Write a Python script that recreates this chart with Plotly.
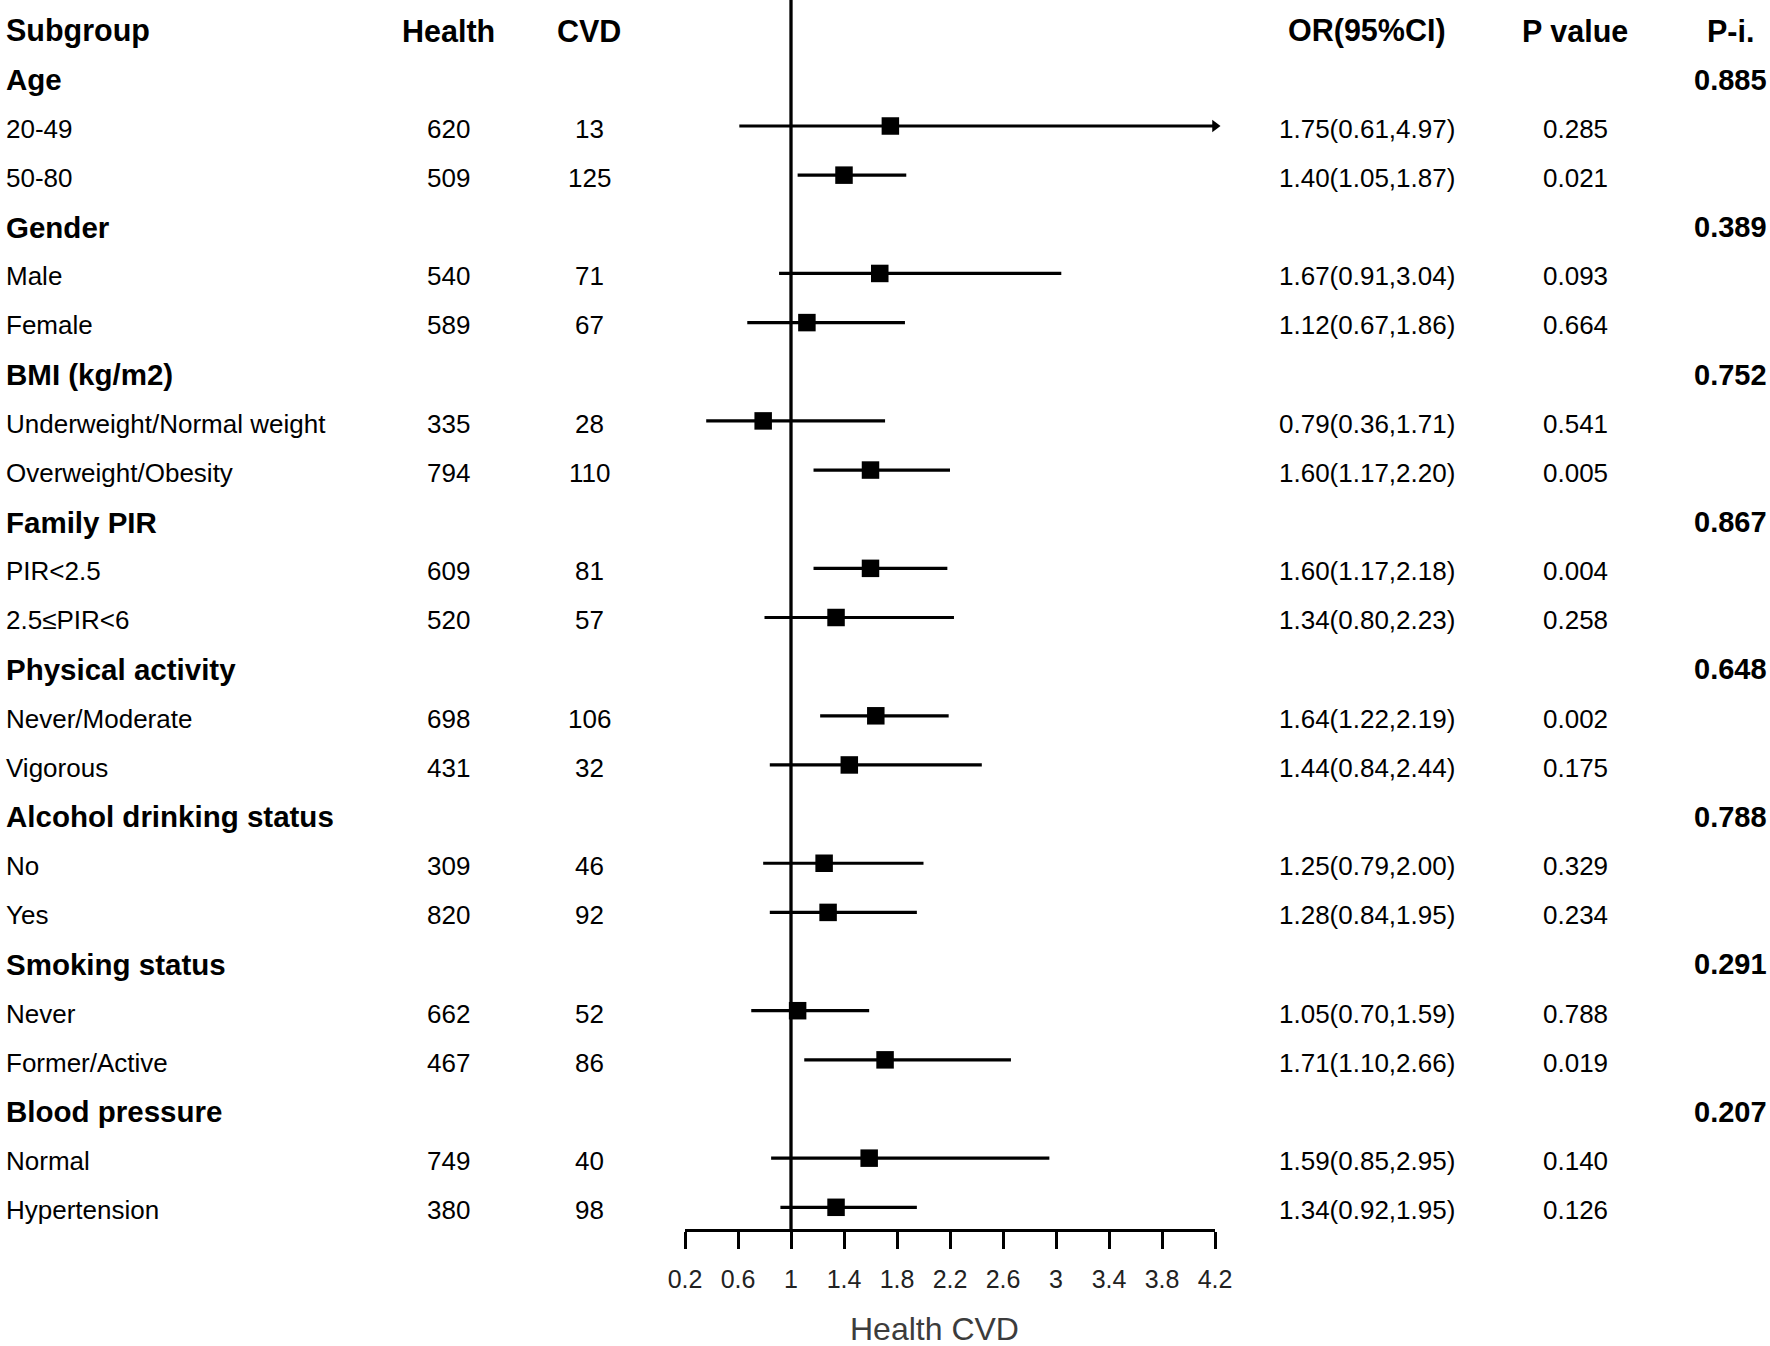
import plotly.graph_objects as go

# ---------------- data ----------------
column_headers = ["Subgroup", "Health", "CVD", "OR(95%CI)", "P value", "P-i."]

row_labels = ["Age", "20-49", "50-80",
              "Gender", "Male", "Female",
              "BMI (kg/m2)", "Underweight/Normal weight", "Overweight/Obesity",
              "Family PIR", "PIR<2.5", "2.5≤PIR<6",
              "Physical activity", "Never/Moderate", "Vigorous",
              "Alcohol drinking status", "No", "Yes",
              "Smoking status", "Never", "Former/Active",
              "Blood pressure", "Normal", "Hypertension"]
is_group = [True, False, False] * 8

health = [None, 620, 509, None, 540, 589, None, 335, 794, None, 609, 520,
          None, 698, 431, None, 309, 820, None, 662, 467, None, 749, 380]
cvd = [None, 13, 125, None, 71, 67, None, 28, 110, None, 81, 57,
       None, 106, 32, None, 46, 92, None, 52, 86, None, 40, 98]
odds_ratio = [None, 1.75, 1.40, None, 1.67, 1.12, None, 0.79, 1.60, None, 1.60, 1.34,
              None, 1.64, 1.44, None, 1.25, 1.28, None, 1.05, 1.71, None, 1.59, 1.34]
ci_low = [None, 0.61, 1.05, None, 0.91, 0.67, None, 0.36, 1.17, None, 1.17, 0.80,
          None, 1.22, 0.84, None, 0.79, 0.84, None, 0.70, 1.10, None, 0.85, 0.92]
ci_high = [None, 4.97, 1.87, None, 3.04, 1.86, None, 1.71, 2.20, None, 2.18, 2.23,
           None, 2.19, 2.44, None, 2.00, 1.95, None, 1.59, 2.66, None, 2.95, 1.95]
p_value = [None, "0.285", "0.021", None, "0.093", "0.664", None, "0.541", "0.005", None, "0.004", "0.258",
           None, "0.002", "0.175", None, "0.329", "0.234", None, "0.788", "0.019", None, "0.140", "0.126"]
p_interaction = ["0.885", None, None, "0.389", None, None, "0.752", None, None, "0.867", None, None,
                 "0.648", None, None, "0.788", None, None, "0.291", None, None, "0.207", None, None]

tick_values = [0.2, 0.6, 1.0, 1.4, 1.8, 2.2, 2.6, 3.0, 3.4, 3.8, 4.2]
tick_labels = ["0.2", "0.6", "1", "1.4", "1.8", "2.2", "2.6", "3", "3.4", "3.8", "4.2"]
x_min, x_max = 0.2, 4.2
null_value = 1.0
axis_title = "Health CVD"

# ---------------- layout geometry (page pixels) ----------------
W, H = 1770, 1346
row_h = 49.15
mark_top_px = 27.7           # y of the header-row centre for the marks
text_drop = 2.8              # texts sit slightly below the marks
axis_px = 1230
FONT = "Liberation Sans, Arial, sans-serif"
REG = 26
GROUP = 29.5
HEAD = 30.5
PINT = 29

rows = list(range(1, len(row_labels) + 1))

# error bars
ex, ey = [], []
clip_x, clip_y = [], []
for r, lo, hi in zip(rows, ci_low, ci_high):
    if lo is None:
        continue
    ex += [lo, min(hi, x_max), None]
    ey += [r, r, None]
    if hi > x_max:
        clip_x.append(x_max)
        clip_y.append(r)

mx = [v for v in odds_ratio if v is not None]
my = [r for r, v in zip(rows, odds_ratio) if v is not None]

fig = go.Figure()
fig.add_trace(go.Scatter(x=ex, y=ey, mode="lines", line=dict(color="black", width=3.2),
                         hoverinfo="skip", showlegend=False, cliponaxis=False))
fig.add_trace(go.Scatter(x=mx, y=my, mode="markers",
                         marker=dict(symbol="square", size=17.5, color="black", line=dict(width=0)),
                         showlegend=False, cliponaxis=False))
fig.add_trace(go.Scatter(x=clip_x, y=clip_y, mode="markers",
                         marker=dict(symbol="triangle-right", size=11, color="black", line=dict(width=0)),
                         showlegend=False, cliponaxis=False))

axis_frac = (H - axis_px) / H
fig.add_shape(type="line", xref="x", yref="paper", x0=null_value, x1=null_value,
              y0=axis_frac, y1=1.0, line=dict(color="black", width=3.3))

col_x = [4, 448, 589, 1367, 1575, 1730]
col_anchor = ["left", "center", "center", "center", "center", "center"]

ann = []
def add_text(text, col, y, size=REG, color="black"):
    ann.append(dict(x=col_x[col] / W, y=y, xref="paper", yref="y", text=text,
                    showarrow=False, xanchor=col_anchor[col], yanchor="middle",
                    yshift=-text_drop,
                    font=dict(family=FONT, size=size, color=color)))

for c, h in enumerate(column_headers):
    add_text("<b>%s</b>" % h, c, 0, size=HEAD)

for r, lab, g, hv, cv, orv, lo, hi, pv, pi in zip(rows, row_labels, is_group, health, cvd,
                                                  odds_ratio, ci_low, ci_high, p_value, p_interaction):
    if g:
        add_text("<b>%s</b>" % lab, 0, r, size=GROUP)
        if pi is not None:
            add_text("<b>%s</b>" % pi, 5, r, size=PINT)
    else:
        add_text(lab, 0, r)
        add_text(str(hv), 1, r)
        add_text(str(cv), 2, r)
        add_text("%.2f(%.2f,%.2f)" % (orv, lo, hi), 3, r)
        add_text(pv, 4, r)

ann.append(dict(x=935 / W, y=(H - 1329) / H, xref="paper", yref="paper",
                text=axis_title, showarrow=False, xanchor="center", yanchor="middle",
                font=dict(family=FONT, size=32, color="#3c3c3c")))

fig.update_layout(
    width=W, height=H,
    margin=dict(l=0, r=0, t=0, b=0, pad=0, autoexpand=False),
    paper_bgcolor="white", plot_bgcolor="white",
    showlegend=False,
    annotations=ann,
    xaxis=dict(domain=[685 / W, 1215 / W], range=[x_min, x_max],
               anchor="free", position=axis_frac, automargin=False,
               showgrid=False, zeroline=False, showline=True, linewidth=3.2, linecolor="black",
               ticks="outside", ticklen=17, tickwidth=3.2, tickcolor="black",
               tickvals=tick_values, ticktext=tick_labels, ticklabelstandoff=9,
               tickfont=dict(family=FONT, size=25, color="#222222")),
    yaxis=dict(domain=[0, 1], range=[(H - mark_top_px) / row_h, (0 - mark_top_px) / row_h],
               visible=False, showgrid=False, automargin=False),
)

fig.write_html("out.html",
               config={"displayModeBar": False},
               post_script="document.body.style.margin='0';document.body.style.padding='0';")
